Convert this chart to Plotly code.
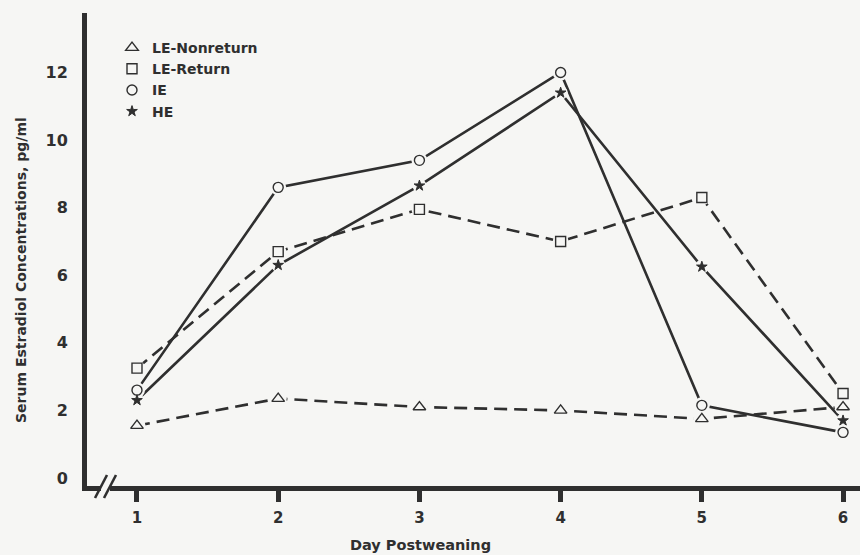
import plotly.graph_objects as go

# Serum estradiol by day postweaning, four groups
days = [1, 2, 3, 4, 5, 6]
le_nonreturn = [1.55, 2.35, 2.1, 2.0, 1.75, 2.1]
le_return = [3.25, 6.7, 7.95, 7.0, 8.3, 2.5]
ie = [2.6, 8.6, 9.4, 12.0, 2.15, 1.35]
he = [2.3, 6.3, 8.65, 11.4, 6.25, 1.7]

y_ticks = [0, 2, 4, 6, 8, 10, 12]
x_ticks = [1, 2, 3, 4, 5, 6]

x_title = "Day Postweaning"
y_title = "Serum Estradiol Concentrations, pg/ml"

INK = "#2f2f2f"
BG = "#f6f6f4"
FONT = "DejaVu Sans, Verdana, sans-serif"
DASH = "13px,7px"

series = [
    # name, values, dash, symbol, size, filled
    ("LE-Nonreturn", le_nonreturn, DASH, "triangle-up", 11, False),
    ("LE-Return", le_return, DASH, "square", 10, False),
    ("IE", ie, "solid", "circle", 10, False),
    ("HE", he, "solid", "star", 8, True),
]

fig = go.Figure()

# connecting lines
for name, vals, dash, sym, size, filled in series:
    fig.add_trace(go.Scatter(
        x=days, y=vals, mode="lines", showlegend=False, hoverinfo="skip",
        line=dict(color=INK, width=2.6, dash=dash),
    ))

# background-coloured halos so lines stop short of the symbols
for name, vals, dash, sym, size, filled in series:
    fig.add_trace(go.Scatter(
        x=days, y=vals, mode="markers", showlegend=False, hoverinfo="skip",
        marker=dict(symbol="circle", size=size + 6, color=BG, line=dict(width=0)),
    ))

# symbols
for name, vals, dash, sym, size, filled in series:
    fig.add_trace(go.Scatter(
        x=days, y=vals, mode="markers", name=name, showlegend=True,
        marker=dict(symbol=sym, size=size,
                    color=INK if filled else BG,
                    line=dict(color=INK, width=1 if filled else 1.4)),
    ))

# plot area in pixels: x 87..860, y 13..486
L, R, T, B = 87, 860, 13, 486
W, H = R - L, B - T


def px(x):
    return (x - L) / W


def py(y):
    return (B - y) / H


shapes = [
    # gap in the bottom axis for the break
    dict(type="rect", xref="paper", yref="paper",
         x0=px(101), x1=px(110), y0=py(492), y1=py(480),
         fillcolor=BG, line=dict(width=0), layer="above"),
    dict(type="line", xref="paper", yref="paper",
         x0=px(95), y0=py(498), x1=px(107), y1=py(475),
         line=dict(color=INK, width=2.6), layer="above"),
    dict(type="line", xref="paper", yref="paper",
         x0=px(104), y0=py(498), x1=px(116), y1=py(475),
         line=dict(color=INK, width=2.6), layer="above"),
]

annotations = [
    dict(text=x_title, xref="paper", yref="paper", x=px(420), y=py(545),
         xanchor="center", yanchor="middle", showarrow=False,
         font=dict(family=FONT, size=14.5, color=INK, weight="bold")),
    dict(text=y_title, xref="paper", yref="paper", x=px(21), y=py(270),
         xanchor="center", yanchor="middle", showarrow=False, textangle=-90,
         font=dict(family=FONT, size=14, color=INK, weight="bold")),
]

fig.update_layout(
    width=860, height=555,
    margin=dict(l=L, r=860 - R, t=T, b=555 - B, pad=0),
    paper_bgcolor=BG, plot_bgcolor=BG,
    font=dict(family=FONT, color=INK, size=16, weight="bold"),
    showlegend=True,
    legend=dict(
        x=px(112), y=py(32), xanchor="left", yanchor="top",
        bgcolor="rgba(0,0,0,0)", borderwidth=0,
        font=dict(family=FONT, size=14, color=INK, weight="bold"),
        itemwidth=30, tracegroupgap=0,
    ),
    shapes=shapes,
    annotations=annotations,
    xaxis=dict(
        range=[0.646, 6.12], tickvals=x_ticks, ticktext=[str(v) for v in x_ticks],
        showgrid=False, zeroline=False,
        showline=True, linecolor=INK, linewidth=5,
        ticks="outside", ticklen=11, tickwidth=5, tickcolor=INK,
        ticklabelstandoff=3,
        tickfont=dict(family=FONT, size=15, color=INK, weight="bold"),
    ),
    yaxis=dict(
        range=[-0.237, 13.76], tickvals=y_ticks, ticktext=[str(v) for v in y_ticks],
        showgrid=False, zeroline=False,
        showline=True, linecolor=INK, linewidth=5,
        ticks="", ticklabelstandoff=11,
        tickfont=dict(family=FONT, size=16, color=INK, weight="bold"),
    ),
)

fig.write_html("out.html")
